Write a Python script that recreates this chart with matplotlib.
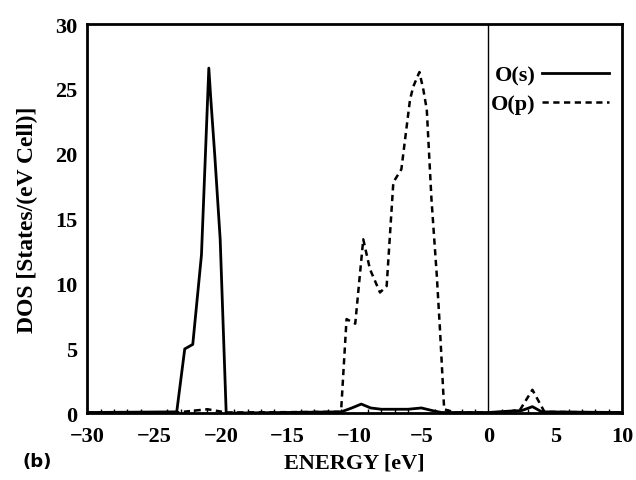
import numpy as np
import matplotlib
matplotlib.use("Agg")
import matplotlib.pyplot as plt
from matplotlib.ticker import MultipleLocator

# O(s) partial DOS
s_energy = [-30, -23.3, -22.7, -22.1, -21.45, -20.9, -20.75, -20.45, -20.05, -19.6,
            -11.0, -10.2, -9.5, -8.8, -8.0, -6.0, -5.0, -4.2, -3.5,
            0.0, 1.5, 2.5, 3.3, 4.0, 10]
s_dos = [0.05, 0.1, 4.95, 5.3, 12.2, 26.6, 24.2, 19.8, 13.4, 0.0,
         0.1, 0.4, 0.7, 0.4, 0.3, 0.3, 0.4, 0.2, 0.05,
         0.05, 0.15, 0.2, 0.5, 0.1, 0.05]

# O(p) partial DOS
p_energy = [-30, -23.3, -21.0, -19.6, -11.1, -11.0, -10.6, -9.95, -9.35, -8.85,
            -8.1, -7.6, -7.1, -6.5, -5.85, -5.6, -5.15, -4.85, -4.6, -4.25,
            -3.85, -3.6, -3.3, -2.5, 0.0, 1.5, 2.4, 3.3, 4.2, 10]
p_dos = [0.05, 0.05, 0.3, 0.05, 0.1, 0.3, 7.25, 6.9, 13.4, 11.1,
         9.3, 9.8, 17.8, 18.8, 24.2, 25.2, 26.3, 24.9, 23.4, 16.5,
         10.6, 6.2, 0.3, 0.05, 0.05, 0.1, 0.3, 1.8, 0.1, 0.05]

x_ticks = [-30, -25, -20, -15, -10, -5, 0, 5, 10]
x_labels = ["\u221230", "\u221225", "\u221220", "\u221215", "\u221210", "\u22125", "0", "5", "10"]
y_ticks = [0, 5, 10, 15, 20, 25, 30]

plt.rcParams["font.family"] = ["Liberation Serif", "DejaVu Serif"]

fig = plt.figure(figsize=(6.36, 4.81), dpi=100)
ax = fig.add_axes([0.137, 0.139, 0.841, 0.809])

ax.plot(s_energy, s_dos, color="black", linewidth=2.0, label="O(s)")
ax.plot(p_energy, p_dos, color="black", linewidth=1.8,
        linestyle=(0, (2.5, 1.8)), label="O(p)")

# Fermi level
ax.axvline(0, color="black", linewidth=1.0)

ax.set_xlim(-30, 10)
ax.set_ylim(0, 30)
ax.set_xticks(x_ticks)
ax.set_xticklabels(x_labels)
ax.set_yticks(y_ticks)
ax.xaxis.set_minor_locator(MultipleLocator(1))
ax.tick_params(axis="both", which="major", direction="in", length=0,
               labelsize=16, pad=7)
ax.tick_params(axis="x", which="major", pad=9)
ax.tick_params(axis="x", which="minor", direction="in", length=3, width=1)
for lbl in ax.get_xticklabels() + ax.get_yticklabels():
    lbl.set_fontweight("bold")
for sp in ax.spines.values():
    sp.set_linewidth(2.0)

ax.set_xlabel("ENERGY [eV]", fontsize=16, fontweight="bold", labelpad=5)
ax.set_ylabel("DOS [States/(eV Cell)]", fontsize=17, fontweight="bold", labelpad=12)

leg = ax.legend(loc="upper right", frameon=False, markerfirst=False,
                handlelength=3.0, handletextpad=0.3, labelspacing=0.35,
                prop={"size": 16, "weight": "bold"},
                bbox_to_anchor=(1.013, 0.945))

fig.text(0.035, 0.03, "(b)", fontsize=13, fontweight="bold",
         family="DejaVu Sans")

fig.savefig("out.png", dpi=100)
